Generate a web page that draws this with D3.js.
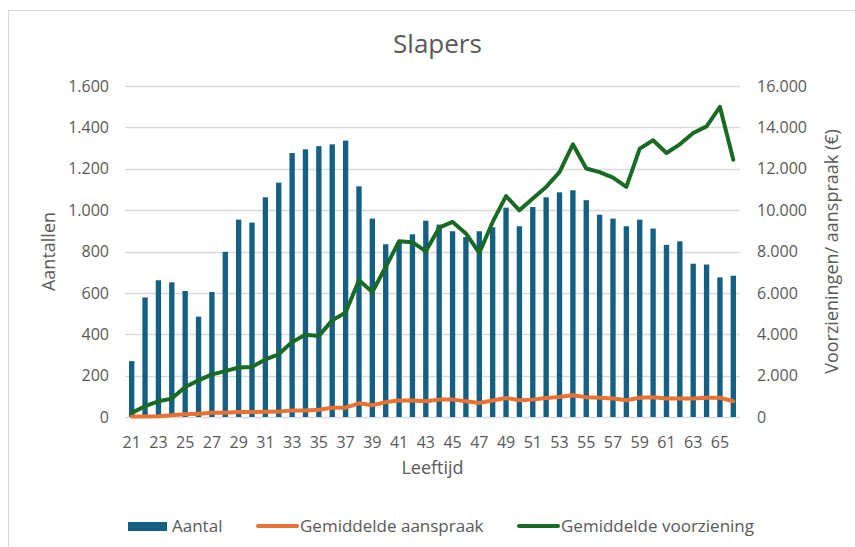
<!DOCTYPE html>
<html lang="nl">
<head>
<meta charset="UTF-8">
<title>Slapers</title>
<script src="https://d3js.org/d3.v7.min.js"></script>
<style>
  body { margin: 0; background: #fff; font-family: "Open Sans", Arial, sans-serif; }
  text { fill: #595959; font-family: "Open Sans", Arial, sans-serif; }
</style>
</head>
<body>
<div id="chart"></div>
<script>
// data
const ages = [21,22,23,24,25,26,27,28,29,30,31,32,33,34,35,36,37,38,39,40,41,42,43,44,45,46,47,48,49,50,51,52,53,54,55,56,57,58,59,60,61,62,63,64,65,66];
const aantal = [270,578,661,651,609,485,604,798,954,940,1062,1133,1276,1294,1309,1318,1336,1115,959,835,845,883,949,930,898,870,898,917,1012,922,1015,1062,1086,1096,1048,978,959,922,954,911,832,849,741,737,675,683];
const aanspraak = [20,20,40,80,130,160,200,200,240,240,250,260,320,320,350,450,450,660,570,720,800,800,760,840,840,760,680,800,920,810,840,920,970,1050,960,930,890,810,930,960,890,890,890,930,930,760];
const voorziening = [200,520,760,890,1450,1770,2060,2220,2390,2420,2780,3030,3630,3980,3920,4670,5050,6610,6040,7250,8490,8450,8010,9150,9430,8870,7930,9430,10680,9990,10560,11120,11840,13180,12010,11840,11570,11120,12970,13380,12760,13180,13730,14050,14990,12440];
const leftTicks = [0,200,400,600,800,1000,1200,1400,1600];
const rightTicks = [0,2000,4000,6000,8000,10000,12000,14000,16000];

const width = 855, height = 547;
const plot = {left: 125, right: 740, top: 86, bottom: 417};

const nl = d3.formatLocale({decimal: ",", thousands: ".", grouping: [3], currency: ["€", ""]});
const fmt = nl.format(",d");

const svg = d3.select("#chart").append("svg")
  .attr("width", width)
  .attr("height", height);

// chart area border
svg.append("rect")
  .attr("x", 8.5).attr("y", 10.5)
  .attr("width", 900).attr("height", 600)
  .attr("fill", "none")
  .attr("stroke", "#d9d9d9");

const x = d3.scaleBand()
  .domain(ages)
  .range([plot.left, plot.right])
  .paddingInner(0.6)
  .paddingOuter(0.3);

const yL = d3.scaleLinear().domain([0, 1600]).range([plot.bottom, plot.top]);
const yR = d3.scaleLinear().domain([0, 16000]).range([plot.bottom, plot.top]);

// gridlines
svg.append("g")
  .selectAll("line")
  .data(leftTicks)
  .join("line")
  .attr("x1", plot.left).attr("x2", plot.right)
  .attr("y1", d => Math.round(yL(d)) + 0.5)
  .attr("y2", d => Math.round(yL(d)) + 0.5)
  .attr("stroke", "#d9d9d9")
  .attr("stroke-width", 1.3);

// left axis
const leftAxis = svg.append("g")
  .attr("transform", `translate(${plot.left - 16},0)`)
  .call(d3.axisLeft(yL).tickValues(leftTicks).tickFormat(fmt).tickSize(0).tickPadding(0));
leftAxis.select(".domain").remove();
leftAxis.selectAll("text")
  .attr("font-size", 16)
  .attr("font-family", "Open Sans, Arial, sans-serif")
  .attr("fill", "#595959");

// right axis
const rightAxis = svg.append("g")
  .attr("transform", `translate(${plot.right + 17},0)`)
  .call(d3.axisRight(yR).tickValues(rightTicks).tickFormat(fmt).tickSize(0).tickPadding(0));
rightAxis.select(".domain").remove();
rightAxis.selectAll("text")
  .attr("font-size", 16)
  .attr("font-family", "Open Sans, Arial, sans-serif")
  .attr("fill", "#595959");

// x axis, every other label
const xAxis = svg.append("g")
  .attr("transform", `translate(0,${plot.bottom})`)
  .call(d3.axisBottom(x).tickValues(ages.filter((d, i) => i % 2 === 0)).tickSize(0).tickPadding(0));
xAxis.select(".domain").remove();
xAxis.selectAll("text")
  .attr("font-size", 16)
  .attr("y", 31)
  .attr("dy", 0)
  .attr("font-family", "Open Sans, Arial, sans-serif")
  .attr("fill", "#595959");

// bars
svg.append("g")
  .selectAll("rect")
  .data(ages)
  .join("rect")
  .attr("x", d => x(d))
  .attr("width", x.bandwidth())
  .attr("y", (d, i) => yL(aantal[i]))
  .attr("height", (d, i) => plot.bottom - yL(aantal[i]))
  .attr("fill", "#156082");

const cx = d => x(d) + x.bandwidth() / 2;

const line = vals => d3.line()
  .x(d => cx(d))
  .y((d, i) => yR(vals[i]));

svg.append("path")
  .datum(ages)
  .attr("d", line(aanspraak))
  .attr("fill", "none")
  .attr("stroke", "#E97132")
  .attr("stroke-width", 4)
  .attr("stroke-linejoin", "round")
  .attr("stroke-linecap", "round");

svg.append("path")
  .datum(ages)
  .attr("d", line(voorziening))
  .attr("fill", "none")
  .attr("stroke", "#196B24")
  .attr("stroke-width", 4)
  .attr("stroke-linejoin", "round")
  .attr("stroke-linecap", "round");

// title and axis titles
svg.append("text")
  .attr("x", (plot.left + plot.right) / 2 + 5)
  .attr("y", 53)
  .attr("text-anchor", "middle")
  .attr("font-size", 26)
  .text("Slapers");

svg.append("text")
  .attr("x", (plot.left + plot.right) / 2)
  .attr("y", 474)
  .attr("text-anchor", "middle")
  .attr("font-size", 18)
  .text("Leeftijd");

svg.append("text")
  .attr("transform", `translate(55,${(plot.top + plot.bottom) / 2}) rotate(-90)`)
  .attr("text-anchor", "middle")
  .attr("font-size", 18)
  .text("Aantallen");

svg.append("text")
  .attr("transform", `translate(838,${(plot.top + plot.bottom) / 2}) rotate(-90)`)
  .attr("text-anchor", "middle")
  .attr("font-size", 18)
  .text("Voorzieningen/ aanspraak (€)");

// legend
const legendItems = [
  {label: "Aantal", color: "#156082", type: "bar", x: 128},
  {label: "Gemiddelde aanspraak", color: "#E97132", type: "line", x: 256},
  {label: "Gemiddelde voorziening", color: "#196B24", type: "line", x: 517}
];
const legend = svg.append("g").attr("transform", "translate(0,526)");
legendItems.forEach(item => {
  if (item.type === "bar") {
    legend.append("rect")
      .attr("x", item.x).attr("y", -4)
      .attr("width", 39).attr("height", 9)
      .attr("fill", item.color);
  } else {
    legend.append("line")
      .attr("x1", item.x + 2).attr("x2", item.x + 41)
      .attr("y1", 0).attr("y2", 0)
      .attr("stroke", item.color)
      .attr("stroke-width", 4)
      .attr("stroke-linecap", "round");
  }
  legend.append("text")
    .attr("x", item.x + 44)
    .attr("y", 0)
    .attr("dy", "0.35em")
    .attr("font-size", 17)
    .text(item.label);
});
</script>
</body>
</html>
